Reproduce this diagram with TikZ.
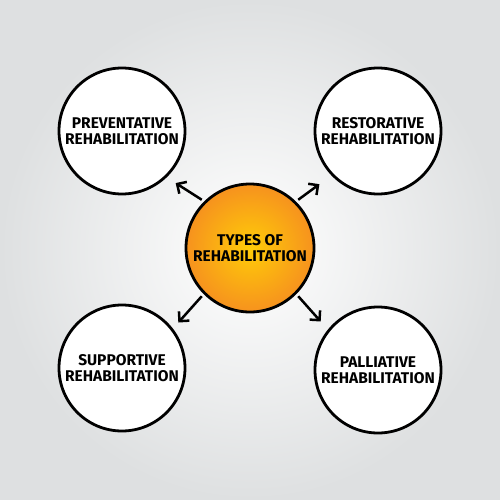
\documentclass[tikz,border=0pt]{standalone}
\usepackage{fontspec}
\setmainfont{Fira Sans}
\usetikzlibrary{arrows.meta}
\definecolor{bgedge}{HTML}{DEE0E1}
\definecolor{orin}{HTML}{FFCC08}
\definecolor{orout}{HTML}{F6921E}
\tikzset{
  circ/.style={circle, draw=black, line width=2.8pt, minimum size=126pt, inner sep=0pt, fill=white, align=center,
     font=\fontsize{15.5}{16}\selectfont\bfseries},
  hub/.style={circle, draw=black, line width=2.8pt, minimum size=128pt, inner sep=0pt, inner color=orin, outer color=orout, align=center,
     font=\fontsize{15.5}{16}\selectfont\bfseries},
  conn/.style={line width=2.5pt, -{Straight Barb[length=7pt,width=14pt]}, shorten >=2pt}
}
\begin{document}
\begin{tikzpicture}[x=1pt,y=-1pt]
\useasboundingbox (0,0) rectangle (500,500);
\shade[inner color=white, outer color=bgedge] (0,0) rectangle (500,500);
\node[hub] (c) at (250,248) {TYPES OF\\REHABILITATION};
\node[circ] (tl) at (122,131) {PREVENTATIVE\\REHABILITATION};
\node[circ] (tr) at (378,131) {RESTORATIVE\\REHABILITATION};
\node[circ] (bl) at (122,368) {SUPPORTIVE\\REHABILITATION};
\node[circ] (br) at (378,370) {PALLIATIVE\\REHABILITATION};
\coordinate (atl) at (174,182);
\coordinate (atr) at (321,183);
\coordinate (abl) at (177,324);
\coordinate (abr) at (322,323);
\draw[conn] (c.135) ++(-2,-2) -- (atl);
\draw[conn] (c.45) ++(2,-2) -- (atr);
\draw[conn] (c.225) ++(-2,2) -- (abl);
\draw[conn] (c.-45) ++(2,2) -- (abr);
\end{tikzpicture}
\end{document}
